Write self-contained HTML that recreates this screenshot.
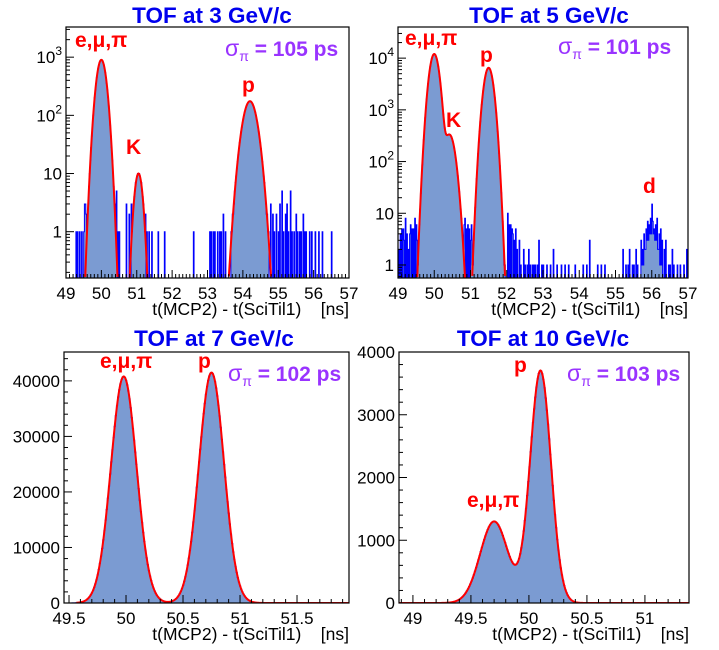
<!DOCTYPE html>
<html><head><meta charset="utf-8"><style>
html,body{margin:0;padding:0;background:#fff}
svg{display:block;font-family:"Liberation Sans",sans-serif}
</style></head><body>
<svg id="c" width="719" height="650" viewBox="0 0 719 650" xmlns="http://www.w3.org/2000/svg"></svg>
<script>
// ---- data: fitted peak parameters [amplitude, mean, sigma] ----
const p1Amp=[900,10,175], p1Mean=[50.0,51.05,54.2], p1Sig=[0.11,0.087,0.16];
const p1NoiseX=[49.3,49.33,49.4,49.45,49.5,49.52,49.55,49.58,50.38,50.42,50.46,50.5,50.7,50.72,50.78,50.8,50.85,51.25,51.3,51.35,51.42,51.6,51.8,52.62,53.08,53.1,53.12,53.18,53.22,53.28,53.35,53.4,53.45,53.5,54.8,54.85,54.9,54.95,55.0,55.05,55.1,55.14,55.2,55.25,55.3,55.35,55.4,55.45,55.5,55.55,55.6,55.65,55.7,55.75,55.8,55.9,55.95,56.05,56.15,56.25,56.5];
const p1NoiseN=[1,1,1,1,1,3,3,2,3,5,1,1,1,3,2,1,3,2,1,1,1,1,1,1,1,1,1,1,1,1,1,1,2,1,3,2,1,2,1,3,5,1,2,3,1,5,1,1,2,1,1,1,2,1,1,1,1,1,1,1,1];
const p2Amp=[12000,330,6500], p2Mean=[50.0,50.42,51.5], p2Sig=[0.105,0.12,0.105];
const p2HistAmp=[4], p2HistMean=[56.0], p2HistSig=[0.15];
const p2NoiseX=[49.02,49.04,49.06,49.08,49.1,49.12,49.14,49.16,49.18,49.2,49.22,49.24,49.26,49.28,49.3,49.32,49.34,49.36,49.38,49.4,49.42,49.44,49.46,49.48,49.5,49.52,50.8,50.82,50.84,50.86,50.88,50.9,50.92,50.94,50.96,50.98,51.0,51.02,51.04,52.02,52.04,52.06,52.08,52.1,52.12,52.14,52.16,52.18,52.2,52.22,52.26,52.3,52.34,52.4,52.46,52.5,52.56,52.6,52.66,52.7,52.76,52.8,52.86,52.9,52.96,53.0,53.1,53.2,53.3,53.4,53.5,53.6,53.7,53.9,54.1,54.2,54.3,54.5,54.6,54.7,55.2,55.3,55.36,55.4,55.46,55.5,55.56,55.6,55.7,55.74,55.8,55.84,55.88,55.92,55.96,56.0,56.04,56.08,56.12,56.16,56.2,56.24,56.3,56.36,56.4,56.46,56.5,56.56,56.6,56.7,56.8,56.9,56.96];
const p2NoiseN=[2,1,4,3,5,2,3,5,3,2,8,3,4,2,2,4,6,3,5,3,2,5,8,4,6,3,3,6,4,8,5,4,6,2,3,5,3,6,4,8,10,6,5,6,4,5,3,4,3,3,5,2,3,1,2,1,1,2,1,1,1,1,1,3,1,1,1,1,2,1,1,1,1,1,1,1,3,1,1,1,2,1,1,2,1,1,2,1,3,2,4,5,7,6,8,15,7,5,6,8,4,5,3,2,3,1,1,2,1,1,1,1,2];
const p3Amp=[40800,41500], p3Mean=[49.98,50.75], p3Sig=[0.112,0.11];
const p4Amp=[1300,3700], p4Mean=[49.7,50.1], p4Sig=[0.12,0.09];

const NS="http://www.w3.org/2000/svg";
const svg=document.getElementById('c');
function mk(tag,attrs,parent){const e=document.createElementNS(NS,tag);for(const k in attrs)e.setAttribute(k,attrs[k]);(parent||svg).appendChild(e);return e;}
function gsum(x,A,M,S){let s=0;for(let i=0;i<A.length;i++)s+=A[i]*Math.exp(-0.5*((x-M[i])/S[i])**2);return s;}

function panel(id,c){
  const g=mk('g',{});
  
  
  const X=v=>c.x0+(v-c.xmin)/(c.xmax-c.xmin)*(c.x1-c.x0);
  const Y=c.log?(v=>{const l=Math.log10(Math.max(v,c.ymin));return c.y1-(l-Math.log10(c.ymin))/(Math.log10(c.ymax)-Math.log10(c.ymin))*(c.y1-c.y0);})
              :(v=>c.y1-(v-c.ymin)/(c.ymax-c.ymin)*(c.y1-c.y0));
  const cid='clip-'+id;
  const cp=mk('clipPath',{id:cid},g);mk('rect',{x:c.x0,y:c.y0,width:c.x1-c.x0,height:c.y1-c.y0},cp);
  const nb=Math.round((c.xmax-c.xmin)/c.bw);
  const cnt=new Array(nb).fill(0);
  for(let i=0;i<nb;i++){const xc=c.xmin+(i+0.5)*c.bw;let v=gsum(xc,c.A,c.M,c.S);if(c.HA)v+=gsum(xc,c.HA,c.HM,c.HS);cnt[i]=c.log?Math.round(v):v;}
  if(c.NX)for(let k=0;k<c.NX.length;k++){const i=Math.floor((c.NX[k]-c.xmin)/c.bw);if(i>=0&&i<nb)cnt[i]=Math.max(cnt[i],c.NN[k]);}
  let d='M'+X(c.xmin)+','+c.y1;
  for(let i=0;i<nb;i++){const y=cnt[i]>0?Y(cnt[i]):c.y1;d+='L'+X(c.xmin+i*c.bw).toFixed(2)+','+y.toFixed(2)+'L'+X(c.xmin+(i+1)*c.bw).toFixed(2)+','+y.toFixed(2);}
  d+='L'+X(c.xmax)+','+c.y1+'Z';
  const h=mk('path',{d:d,fill:'#7b9bd2',stroke:'#0000ff','stroke-width':1,'clip-path':'url(#'+cid+')'},g);
  
  
  let fd='',pen=false;
  for(let x=c.xmin;x<=c.xmax;x+=0.004){const v=gsum(x,c.A,c.M,c.S);
    if(c.log&&v<c.ymin){pen=false;continue;}
    if(!c.log&&x<c.fitMin)continue;
    fd+=(pen?'L':'M')+X(x).toFixed(2)+','+Y(v).toFixed(2);pen=true;}
  const f=mk('path',{d:fd,fill:'none',stroke:'#ff0000','stroke-width':2,'clip-path':'url(#'+cid+')'},g);
  
  
  const fr=mk('rect',{x:c.x0,y:c.y0,width:c.x1-c.x0,height:c.y1-c.y0,fill:'none',stroke:'#000','stroke-width':1.2},g);
  
  
  const xa=mk('g',{},g);
  
  
  const start=Math.ceil(c.xmin/c.xminor-1e-6)*c.xminor;
  for(let v=start;v<=c.xmax+1e-9;v+=c.xminor){
    const isMaj=Math.abs(v/c.xmajor-Math.round(v/c.xmajor))<1e-6;
    const px=X(v);mk('line',{x1:px,x2:px,y1:c.y1,y2:c.y1-(isMaj?8:4),stroke:'#000','stroke-width':1},xa);
  }
  c.xlabels.forEach(v=>{const t=mk('text',{x:X(v),y:c.y1+21,'font-size':17,'text-anchor':'middle',fill:'#000'},xa);t.textContent=String(v);
    
    });
  const xt=mk('text',{x:c.x1,y:c.y1+37,'font-size':17.5,'text-anchor':'end',fill:'#000'},g);
  xt.textContent='t(MCP2) - t(SciTil1)\u00a0\u00a0\u00a0\u00a0[ns]';
  
  
  const ya=mk('g',{},g);
  
  
  if(c.log){
    for(let e=-1;e<=5;e++)for(let m=1;m<=9;m++){const v=m*Math.pow(10,e);if(v<c.ymin||v>c.ymax)continue;const py=Y(v);
      mk('line',{x1:c.x0,x2:c.x0+(m==1?8:4),y1:py,y2:py,stroke:'#000','stroke-width':1},ya);}
  }else{
    for(let v=c.ymin;v<=c.ymax+1e-9;v+=c.yminor){const isMaj=Math.abs(v/c.ymajor-Math.round(v/c.ymajor))<1e-6;const py=Y(v);
      mk('line',{x1:c.x0,x2:c.x0+(isMaj?8:4),y1:py,y2:py,stroke:'#000','stroke-width':1},ya);}
  }
  c.ylabels.forEach(v=>{const t=mk('text',{x:c.x0-4,y:Y(v)+6,'font-size':17,'text-anchor':'end',fill:'#000'},ya);
    if(c.log&&v>=100){t.textContent='10';const s=mk('tspan',{'font-size':12,dy:-8},t);s.textContent=String(Math.round(Math.log10(v)));}
    else t.textContent=String(v);
    
    });
  const tt=mk('text',{x:c.tx,y:c.ty,'font-size':22.5,'font-weight':'bold','text-anchor':'middle',fill:'#0000ee'},g);
  tt.textContent=c.title;
  
  
  c.labels.forEach(L=>{const t=mk('text',{x:L[1],y:L[2],'font-size':21,'font-weight':'bold',fill:'#ff0000'},g);t.textContent=L[0];
    
    });
  const s=mk('text',{x:c.sx,y:c.sy,'font-size':21,'font-weight':'bold',fill:'#9933ff'},g);
  const s1=mk('tspan',{'font-weight':'normal','font-size':23},s);s1.textContent='σ';
  const s2=mk('tspan',{'font-weight':'normal','font-size':14,dy:5},s);s2.textContent='π';
  const s3=mk('tspan',{dy:-5},s);s3.textContent=' = '+c.sig+' ps';
  
  
}

panel('p3gev',{x0:66,x1:349,y0:27,y1:278,xmin:49,xmax:57,ymin:0.16,ymax:3300,log:true,bw:0.02,
  A:p1Amp,M:p1Mean,S:p1Sig,NX:p1NoiseX,NN:p1NoiseN,xmajor:1,xminor:0.1,xlabels:[49,50,51,52,53,54,55,56,57],ylabels:[1,10,100,1000],
  title:'TOF at 3 GeV/c',tx:212,ty:23,labels:[['e,μ,π',75,47],['K',126,154],['p',242,92]],sx:225,sy:56,sig:'105'});
panel('p5gev',{x0:398,x1:688,y0:27,y1:278,xmin:49,xmax:57,ymin:0.56,ymax:40000,log:true,bw:0.02,
  A:p2Amp,M:p2Mean,S:p2Sig,HA:p2HistAmp,HM:p2HistMean,HS:p2HistSig,NX:p2NoiseX,NN:p2NoiseN,xmajor:1,xminor:0.1,xlabels:[49,50,51,52,53,54,55,56,57],ylabels:[1,10,100,1000,10000],
  title:'TOF at 5 GeV/c',tx:549,ty:23,labels:[['e,μ,π',405,45],['K',446,127],['p',480,62],['d',643,193]],sx:558,sy:54,sig:'101'});
panel('p7gev',{x0:64,x1:349,y0:352,y1:603,xmin:49.456,xmax:51.956,ymin:0,ymax:45200,log:false,bw:0.01,fitMin:49.56,
  A:p3Amp,M:p3Mean,S:p3Sig,xmajor:0.5,xminor:0.1,xlabels:[49.5,50,50.5,51,51.5],ylabels:[0,10000,20000,30000,40000],ymajor:10000,yminor:2000,
  title:'TOF at  7 GeV/c',tx:214,ty:346,labels:[['e,μ,π',100,368],['p',198,368]],sx:228,sy:381,sig:'102'});
panel('p10gev',{x0:399,x1:689,y0:352,y1:603,xmin:48.88,xmax:51.38,ymin:0,ymax:4000,log:false,bw:0.01,fitMin:48.88,
  A:p4Amp,M:p4Mean,S:p4Sig,xmajor:0.5,xminor:0.1,xlabels:[49,49.5,50,50.5,51],ylabels:[0,1000,2000,3000,4000],ymajor:1000,yminor:200,
  title:'TOF at 10 GeV/c',tx:543,ty:346,labels:[['e,μ,π',467,507],['p',514,372]],sx:567,sy:381,sig:'103'});
</script>
</body></html>
